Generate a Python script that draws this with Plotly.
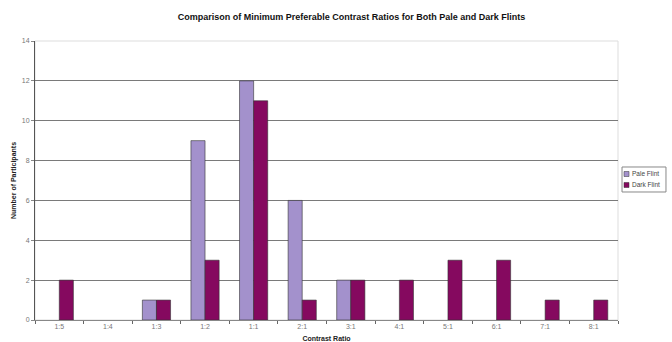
import plotly.graph_objects as go

categories = ["1:5", "1:4", "1:3", "1:2", "1:1", "2:1", "3:1", "4:1", "5:1", "6:1", "7:1", "8:1"]
pale_flint = [0, 0, 1, 9, 12, 6, 2, 0, 0, 0, 0, 0]
dark_flint = [2, 0, 1, 3, 11, 1, 2, 2, 3, 3, 1, 1]
series_names = ["Pale Flint", "Dark Flint"]
series_colors = ["#a391cc", "#85095f"]


def outline_widths(values):
    # empty bars get no outline so they don't show as a flat stroke on the axis
    return [0.6 if v > 0 else 0 for v in values]


fig = go.Figure()
for name, values, color in zip(series_names, [pale_flint, dark_flint], series_colors):
    fig.add_trace(go.Bar(x=categories, y=values, name=name,
                         marker=dict(color=color,
                                     line=dict(color="#333333", width=outline_widths(values)))))

# compact boxed key to the right of the plot area (paper coordinates)
shapes = [dict(type="rect", xref="paper", yref="paper", x0=0, x1=1, y0=0, y1=1,
               line=dict(color="#dddddd", width=1), layer="below"),
          dict(type="rect", xref="paper", yref="paper", x0=1.0069, x1=1.0823, y0=0.4588, y1=0.5484,
               line=dict(color="#888888", width=1), fillcolor="white")]
annotations = []
for i, (name, color) in enumerate(zip(series_names, series_colors)):
    yc = 0.5233 - i * 0.0394
    shapes.append(dict(type="rect", xref="paper", yref="paper",
                       x0=1.0103, x1=1.0189, y0=yc - 0.009, y1=yc + 0.009,
                       line=dict(color="#333333", width=0.5), fillcolor=color))
    annotations.append(dict(xref="paper", yref="paper", x=1.0206, y=yc, text=name,
                            showarrow=False, xanchor="left", yanchor="middle",
                            font=dict(size=6.5, color="#444444")))

fig.update_layout(
    width=672, height=342,
    margin=dict(l=35, r=54, t=41, b=22, autoexpand=False),
    paper_bgcolor="white", plot_bgcolor="white",
    barmode="group", bargap=0.42, bargroupgap=0,
    showlegend=False,
    font=dict(family="Liberation Sans, Arial, sans-serif", size=7, color="#777777"),
    title=dict(text="<b>Comparison of Minimum Preferable Contrast Ratios for Both Pale and Dark Flints</b>",
               x=0.523, xanchor="center", y=0.95, yanchor="middle",
               font=dict(size=9, color="#111111")),
    xaxis=dict(title=dict(text="<b>Contrast Ratio</b>", font=dict(size=7, color="#222222"), standoff=6),
               automargin=False,
               showline=True, linecolor="#888888", linewidth=1, mirror=False,
               ticks="outside", tickson="boundaries", ticklen=3, tickcolor="#666666",
               tickfont=dict(size=7, color="#777777")),
    yaxis=dict(title=dict(text="<b>Number of Participants</b>", font=dict(size=7, color="#222222"), standoff=4),
               automargin=False,
               range=[0, 14], dtick=2, showgrid=True, gridcolor="#7a7a7a", gridwidth=1,
               showline=True, linecolor="#555555", linewidth=1,
               ticks="outside", ticklen=3, tickcolor="#888888",
               tickfont=dict(size=7, color="#777777"), zeroline=False),
    shapes=shapes,
    annotations=annotations,
)

fig.write_html("out.html")
